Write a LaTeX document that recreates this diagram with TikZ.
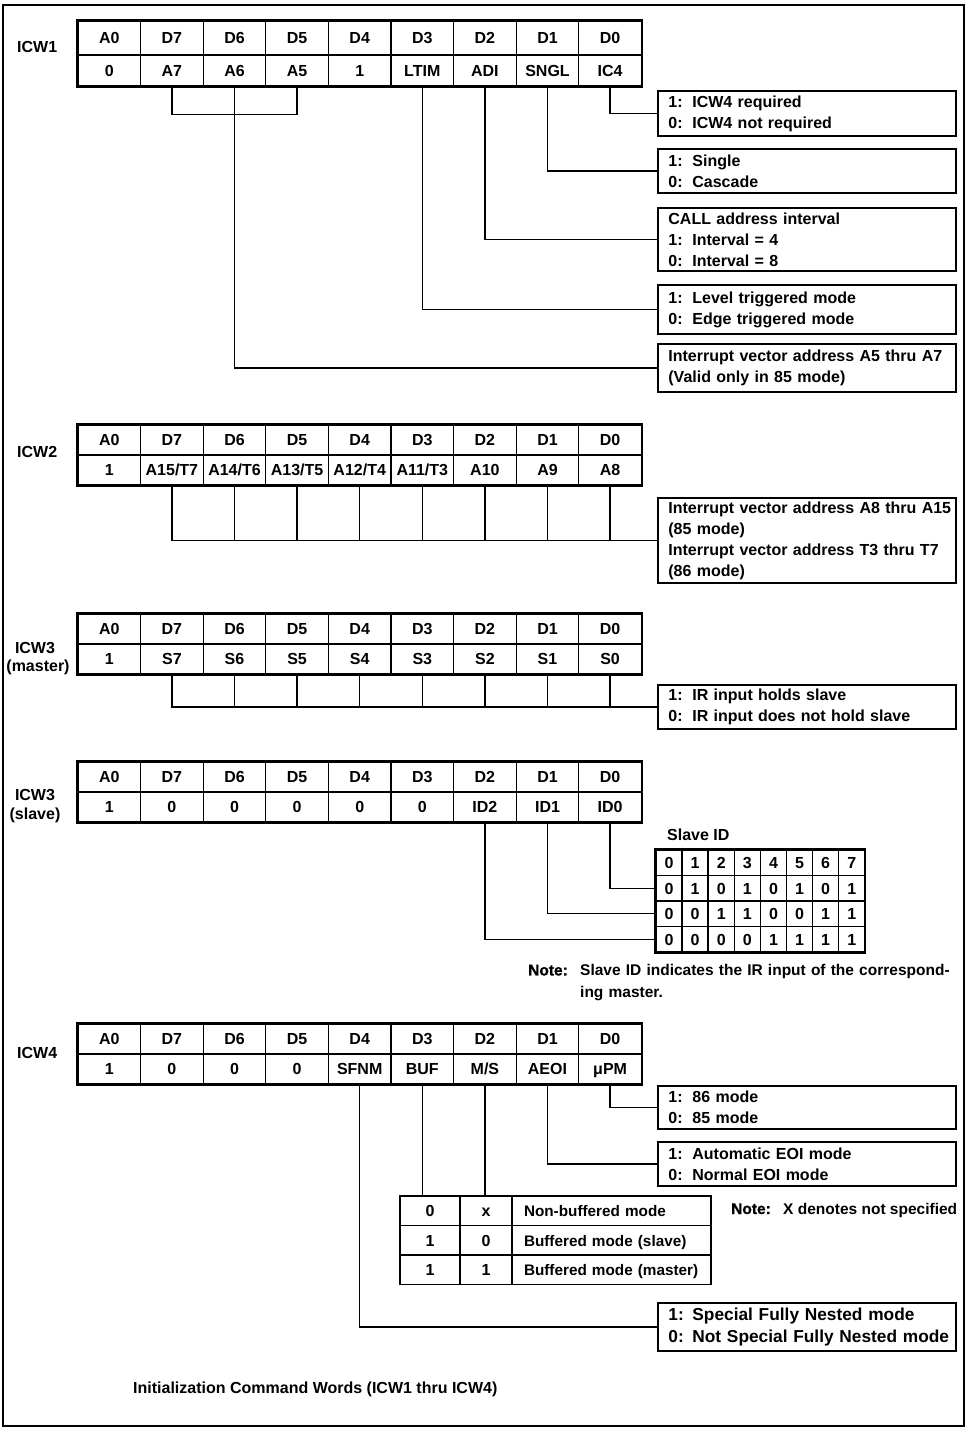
\documentclass[tikz,border=0pt]{standalone}
\usepackage{fontspec}
\setmainfont{Liberation Sans}
\newcommand\pfx[1]{\makebox[24pt][l]{#1}}
\newcommand\heavy{\addfontfeatures{FakeBold=1}}
\newcommand\mkreg[5]{%
  \foreach \t [count=\i from 0] in {A0,D7,D6,D5,D4,D3,D2,D1,D0}
    \node[cell, minimum height={#3-#2}] (#1h\i) at ({109.3+62.6*\i},{(#2+#3)/2}) {\t};
  \foreach \t [count=\i from 0] in {#5}
    \node[cell, minimum height={#4-#3}] (#1v\i) at ({109.3+62.6*\i},{(#3+#4)/2}) {\t};
  \draw[frame] (#1h0.north west) rectangle (#1v8.south east);
}
\begin{document}
\begin{tikzpicture}[x=1pt,y=-1pt,
  every node/.style={font=\fontsize{16}{21}\selectfont\bfseries, inner sep=0pt},
  cell/.style={draw, line width=1.1pt, minimum width=62.6pt, text height=11.5pt, text depth=0pt},
  frame/.style={line width=2.6pt},
  wire/.style={line width=1.3pt},
  infobox/.style={draw, line width=1.8pt, anchor=north west, text width=298pt, inner xsep=0pt, align=left,
    execute at begin node={\leftskip=10.5pt\relax}},
  sid/.style={draw, line width=1.5pt, minimum width=26.1pt, minimum height=25.5pt, text height=11.5pt, text depth=0pt},
  mcell/.style={draw, line width=1.5pt, minimum height=29.5pt, text height=11.5pt, text depth=0pt},
]
\useasboundingbox (0,0) rectangle (967,1430);
\draw[line width=2.6pt] (3,5) rectangle (964,1426);

% ---------- ICW1
\node[anchor=west] (l1) at (17,47) {ICW1};
\mkreg{ra}{21}{55}{86}{0,A7,A6,A5,1,LTIM,ADI,SNGL,IC4}
\node[infobox, minimum height=45pt] (b1) at (657,90) {\pfx{1:}ICW4 required\\\pfx{0:}ICW4 not required};
\node[infobox, minimum height=44pt] (b2) at (657,148) {\pfx{1:}Single\\\pfx{0:}Cascade};
\node[infobox, minimum height=63pt] (b3) at (657,207) {CALL address interval\\\pfx{1:}Interval = 4\\\pfx{0:}Interval = 8};
\node[infobox, minimum height=49pt] (b4) at (657,284) {\pfx{1:}Level triggered mode\\\pfx{0:}Edge triggered mode};
\node[infobox, minimum height=48pt] (b5) at (657,343) {Interrupt vector address A5 thru A7\\(Valid only in 85 mode)};
\draw[wire] (rav1.south) -- ++(0,28) -| (rav3.south);
\draw[wire] (rav2.south) |- (b5.west);
\draw[wire] (rav5.south) |- (b4.west);
\draw[wire] (rav6.south) |- (b3.west);
\draw[wire] (rav7.south) |- (b2.west);
\draw[wire] (rav8.south) |- (b1.west);

% ---------- ICW2
\node[anchor=west] (l2) at (17,452) {ICW2};
\mkreg{rb}{425}{455}{485}{1,A15/T7,A14/T6,A13/T5,A12/T4,A11/T3,A10,A9,A8}
\node[infobox, minimum height=85pt] (b6) at (657,497) {Interrupt vector address A8 thru A15\\(85 mode)\\Interrupt vector address T3 thru T7\\(86 mode)};
\draw[wire] (rbv1.south) |- (b6.west);
\foreach \i in {2,...,8} \draw[wire] (rbv\i.south) -- (rbv\i.south |- b6.west);

% ---------- ICW3 master
\node (l3a) at (35,648) {ICW3};
\node (l3b) at (38,667) {(master)};
\mkreg{rc}{614}{644}{674}{1,S7,S6,S5,S4,S3,S2,S1,S0}
\node[infobox, minimum height=44pt] (b7) at (657,684) {\pfx{1:}IR input holds slave\\\pfx{0:}IR input does not hold slave};
\draw[wire] (rcv1.south) |- (b7.west);
\foreach \i in {2,...,8} \draw[wire] (rcv\i.south) -- (rcv\i.south |- b7.west);

% ---------- ICW3 slave
\node (l4a) at (35,795) {ICW3};
\node (l4b) at (35,815) {(slave)};
\mkreg{rd}{762}{792}{822}{1,0,0,0,0,0,ID2,ID1,ID0}
\node[anchor=west] (sidl) at (667,835) {Slave ID};
\foreach \row [count=\r from 0] in {{0,1,2,3,4,5,6,7},{0,1,0,1,0,1,0,1},{0,0,1,1,0,0,1,1},{0,0,0,0,1,1,1,1}}
  \foreach \v [count=\c from 0] in \row
    \node[sid] (s\r-\c) at ({669.05+26.1*\c},{862.75+25.5*\r}) {\v};
\draw[line width=1.8pt] (s0-0.north west) rectangle (s3-7.south east);
\draw[wire] (rdv8.south) |- (s1-0.west);
\draw[wire] (rdv7.south) |- (s2-0.west);
\draw[wire] (rdv6.south) |- (s3-0.west);
\node[anchor=north west, text width=430pt, align=left, font=\fontsize{15.5}{22}\selectfont\bfseries] (n1) at (528,964)
  {\makebox[52pt][l]{\heavy Note:}Slave ID indicates the IR input of the correspond-\\\hspace*{52pt}ing master.};

% ---------- ICW4
\node[anchor=west] (l5) at (17,1053) {ICW4};
\mkreg{re}{1024}{1054}{1084}{1,0,0,0,SFNM,BUF,M/S,AEOI,μPM}
\node[infobox, minimum height=43pt] (b8) at (657,1085) {\pfx{1:}86 mode\\\pfx{0:}85 mode};
\node[infobox, minimum height=44pt] (b9) at (657,1141) {\pfx{1:}Automatic EOI mode\\\pfx{0:}Normal EOI mode};
\node[infobox, minimum height=48pt, font=\fontsize{17.3}{22}\selectfont\bfseries] (b10) at (657,1302) {\pfx{1:}Special Fully Nested mode\\\pfx{0:}Not Special Fully Nested mode};
\foreach \a/\b/\m [count=\r from 0] in {0/x/Non-buffered mode,1/0/Buffered mode (slave),1/1/Buffered mode (master)} {
  \node[mcell, minimum width=60pt] (m\r-0) at (430,{1210.75+29.5*\r}) {\a};
  \node[mcell, minimum width=52pt] (m\r-1) at (486,{1210.75+29.5*\r}) {\b};
  \node[mcell, text width=199pt, inner xsep=0pt, align=left, font=\fontsize{15.3}{21}\selectfont\bfseries,
    execute at begin node={\leftskip=12pt\relax}] (m\r-2) at (611.5,{1210.75+29.5*\r}) {\m};
}
\node[anchor=west, font=\fontsize{15.5}{21}\selectfont\bfseries] (n2) at (731,1210) {\makebox[52pt][l]{\heavy Note:}X denotes not specified};
\draw[wire] (rev8.south) |- (b8.west);
\draw[wire] (rev7.south) |- (b9.west);
\draw[wire] (rev6.south) -- (rev6.south |- m0-1.north);
\draw[wire] (rev5.south) -- (rev5.south |- m0-0.north);
\draw[wire] (rev4.south) |- (b10.west);

% ---------- caption
\node[anchor=west] (cap) at (133,1389) {Initialization Command Words (ICW1 thru ICW4)};
\end{tikzpicture}
\end{document}
